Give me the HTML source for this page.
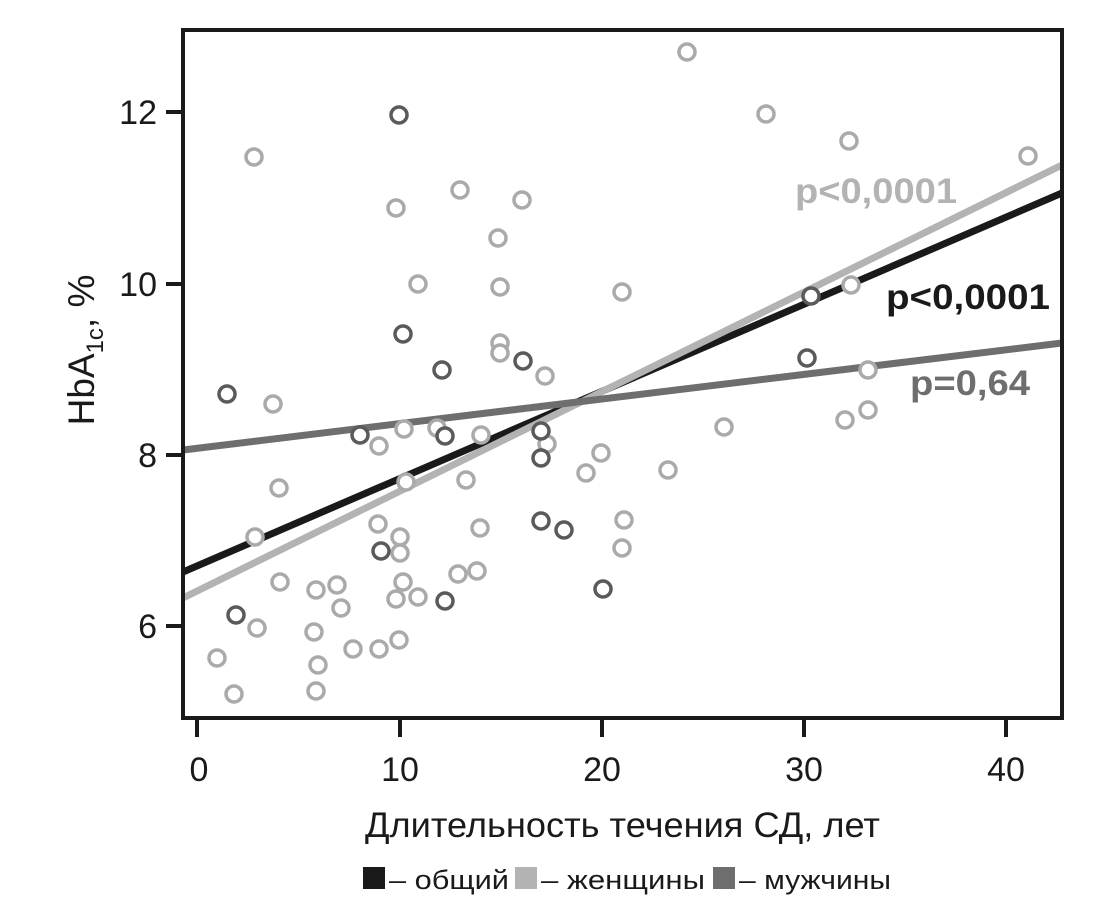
<!DOCTYPE html><html><head><meta charset="utf-8"><style>body{margin:0;background:#fff}</style></head><body>
<svg width="1100" height="909" xmlns="http://www.w3.org/2000/svg" font-family="Liberation Sans, DejaVu Sans, sans-serif">
<rect width="1100" height="909" fill="#fff"/>
<g fill="none">
<line x1="183" y1="572" x2="1062" y2="193" stroke="#1a1a1a" stroke-width="7"/>
<line x1="183" y1="598" x2="1062" y2="165" stroke="#b3b3b3" stroke-width="7"/>
<line x1="183" y1="450" x2="1062" y2="343" stroke="#6e6e6e" stroke-width="7"/>
</g>
<g fill="#fff" stroke="#aaa" stroke-width="3.5">
<circle cx="254" cy="157" r="8"/><circle cx="273" cy="404" r="8"/><circle cx="255" cy="537" r="8"/><circle cx="257" cy="628" r="8"/><circle cx="217" cy="658" r="8"/><circle cx="234" cy="694" r="8"/><circle cx="279" cy="488" r="8"/><circle cx="280" cy="582" r="8"/><circle cx="316" cy="590" r="8"/><circle cx="314" cy="632" r="8"/><circle cx="318" cy="665" r="8"/><circle cx="316" cy="691" r="8"/><circle cx="337" cy="585" r="8"/><circle cx="341" cy="608" r="8"/><circle cx="353" cy="649" r="8"/><circle cx="379" cy="649" r="8"/><circle cx="378" cy="524" r="8"/><circle cx="379" cy="446" r="8"/><circle cx="396" cy="208" r="8"/><circle cx="418" cy="284" r="8"/><circle cx="404" cy="429" r="8"/><circle cx="406" cy="482" r="8"/><circle cx="400" cy="537" r="8"/><circle cx="400" cy="553" r="8"/><circle cx="403" cy="582" r="8"/><circle cx="396" cy="599" r="8"/><circle cx="399" cy="640" r="8"/><circle cx="418" cy="597" r="8"/><circle cx="437" cy="428" r="8"/><circle cx="458" cy="574" r="8"/><circle cx="477" cy="571" r="8"/><circle cx="466" cy="480" r="8"/><circle cx="480" cy="528" r="8"/><circle cx="481" cy="435" r="8"/><circle cx="460" cy="190" r="8"/><circle cx="498" cy="238" r="8"/><circle cx="500" cy="287" r="8"/><circle cx="500" cy="343" r="8"/><circle cx="500" cy="353" r="8"/><circle cx="522" cy="200" r="8"/><circle cx="545" cy="376" r="8"/><circle cx="547" cy="444" r="8"/><circle cx="586" cy="473" r="8"/><circle cx="601" cy="453" r="8"/><circle cx="624" cy="520" r="8"/><circle cx="622" cy="548" r="8"/><circle cx="622" cy="292" r="8"/><circle cx="668" cy="470" r="8"/><circle cx="724" cy="427" r="8"/><circle cx="687" cy="52" r="8"/><circle cx="766" cy="114" r="8"/><circle cx="849" cy="141" r="8"/><circle cx="851" cy="285" r="8"/><circle cx="845" cy="420" r="8"/><circle cx="868" cy="410" r="8"/><circle cx="868" cy="370" r="8"/><circle cx="1028" cy="156" r="8"/>
</g>
<g fill="#fff" stroke="#5a5a5a" stroke-width="3.5">
<circle cx="227" cy="394" r="8"/><circle cx="236" cy="615" r="8"/><circle cx="399" cy="115" r="8"/><circle cx="403" cy="334" r="8"/><circle cx="360" cy="435" r="8"/><circle cx="381" cy="551" r="8"/><circle cx="442" cy="370" r="8"/><circle cx="445" cy="436" r="8"/><circle cx="445" cy="601" r="8"/><circle cx="523" cy="361" r="8"/><circle cx="541" cy="431" r="8"/><circle cx="541" cy="458" r="8"/><circle cx="541" cy="521" r="8"/><circle cx="564" cy="530" r="8"/><circle cx="603" cy="589" r="8"/><circle cx="811" cy="296" r="8"/><circle cx="807" cy="358" r="8"/>
</g>
<rect x="183" y="30" width="879" height="688" fill="none" stroke="#1a1a1a" stroke-width="4"/>
<g stroke="#1a1a1a" stroke-width="4">
<line x1="166" y1="112" x2="183" y2="112"/><line x1="166" y1="284" x2="183" y2="284"/><line x1="166" y1="455" x2="183" y2="455"/><line x1="166" y1="626" x2="183" y2="626"/>
<line x1="197" y1="718" x2="197" y2="737"/><line x1="400" y1="718" x2="400" y2="737"/><line x1="602" y1="718" x2="602" y2="737"/><line x1="804" y1="718" x2="804" y2="737"/><line x1="1006" y1="718" x2="1006" y2="737"/>
</g>
<g font-size="34" fill="#1a1a1a" text-anchor="end">
<text x="157" y="124">12</text><text x="157" y="296">10</text><text x="157" y="467">8</text><text x="157" y="638">6</text>
</g>
<g font-size="34" fill="#1a1a1a" text-anchor="middle">
<text x="199" y="781">0</text><text x="400" y="781">10</text><text x="602" y="781">20</text><text x="804" y="781">30</text><text x="1006" y="781">40</text>
</g>
<text x="365" y="837" font-size="35" fill="#1a1a1a" textLength="515" lengthAdjust="spacingAndGlyphs">Длительность течения СД, лет</text>
<text transform="translate(94,350) rotate(-90)" text-anchor="middle" font-size="37" fill="#1a1a1a">HbA<tspan font-size="24" dy="9">1c</tspan><tspan dy="-9">, %</tspan></text>
<g font-weight="bold" font-size="35">
<text x="795" y="203" fill="#b3b3b3" textLength="162" lengthAdjust="spacingAndGlyphs">p&lt;0,0001</text>
<text x="886" y="309" fill="#1a1a1a" textLength="164" lengthAdjust="spacingAndGlyphs">p&lt;0,0001</text>
<text x="910" y="395" fill="#6e6e6e" textLength="120" lengthAdjust="spacingAndGlyphs">p=0,64</text>
</g>
<rect x="363" y="867" width="22" height="22" fill="#1a1a1a"/>
<rect x="515" y="867" width="22" height="22" fill="#b3b3b3"/>
<rect x="713" y="867" width="22" height="22" fill="#6e6e6e"/>
<g font-size="27" fill="#1a1a1a">
<text x="389" y="889" textLength="120" lengthAdjust="spacingAndGlyphs">– общий</text>
<text x="541" y="889" textLength="164" lengthAdjust="spacingAndGlyphs">– женщины</text>
<text x="739" y="889" textLength="152" lengthAdjust="spacingAndGlyphs">– мужчины</text>
</g>
</svg></body></html>
